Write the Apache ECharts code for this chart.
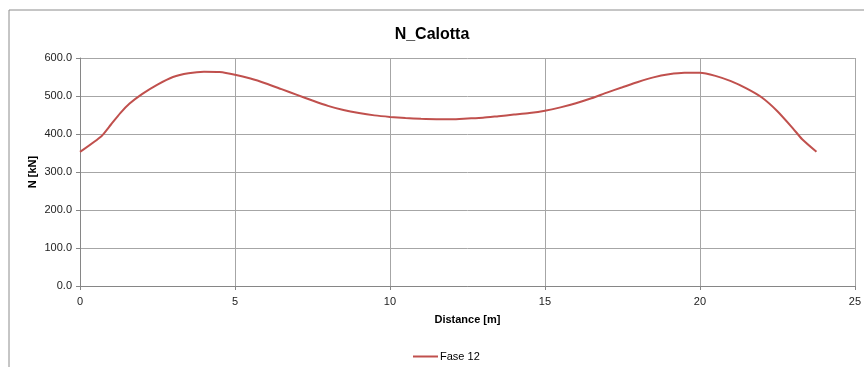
<!DOCTYPE html>
<html>
<head>
<meta charset="utf-8">
<script src="https://cdn.jsdelivr.net/npm/echarts@6/dist/echarts.min.js"></script>
<style>
html,body{margin:0;padding:0;background:#fff;}
#chart{width:864px;height:367px;}
</style>
</head>
<body>
<div id="chart"></div>
<script>
const chartTitle = 'N_Calotta';
const seriesName = 'Fase 12';
const xAxisName = 'Distance [m]';
const yAxisName = 'N [kN]';
const distance = [0, 0.7, 1.0, 1.3, 1.6, 2.0, 2.5, 3.0, 3.5, 4.0, 4.5, 5.0, 5.5, 6.0, 6.5, 7.0, 7.5, 8.0, 8.5, 9.0, 9.5, 10.0, 10.5, 11.0, 11.5, 12.0, 12.5, 13.0, 13.5, 14.0, 14.5, 15.0, 15.5, 16.0, 16.5, 17.0, 17.5, 18.0, 18.5, 19.0, 19.5, 20.0, 20.5, 21.0, 21.5, 22.0, 22.5, 23.0, 23.3, 23.76];
const nValues = [353, 395, 425, 455, 480, 505, 530, 550, 560, 564, 563, 556, 546, 533, 518, 503, 488, 474, 463, 455, 449, 445, 442, 440, 439, 439, 441, 443, 447, 451, 455, 461, 470, 481, 494, 509, 523, 537, 549, 557, 561, 561, 553, 539, 520, 496, 460, 415, 386, 353];

const data = distance.map((d, i) => [d, nValues[i]]);
const chart = echarts.init(document.getElementById('chart'));
const font = 'Liberation Sans';
chart.setOption({
  animation: false,
  backgroundColor: '#fff',
  textStyle: { fontFamily: font },
  graphic: [{
    type: 'rect',
    shape: { x: 9, y: 10, width: 900, height: 400 },
    style: { fill: 'none', stroke: '#8c8c8c', lineWidth: 1 },
    silent: true, z: -1
  }],
  title: {
    text: chartTitle,
    left: 'center',
    top: 22,
    textStyle: { fontFamily: font, fontSize: 16, fontWeight: 'bold', color: '#000' }
  },
  legend: {
    left: 408,
    top: 346,
    itemWidth: 25,
    itemHeight: 2,
    itemGap: 10,
    textStyle: { fontFamily: font, fontSize: 11, color: '#000', padding: [0, 0, 0, -3] },
    data: [{ name: seriesName, icon: 'rect' }]
  },
  grid: { left: 80, right: 9, top: 58, bottom: 81, containLabel: false },
  xAxis: {
    type: 'value',
    min: 0, max: 25, interval: 5,
    name: xAxisName,
    nameLocation: 'middle',
    nameGap: 28,
    nameTextStyle: { fontFamily: font, fontSize: 11, fontWeight: 'bold', color: '#000' },
    axisLine: { lineStyle: { color: '#868686', width: 1 } },
    axisTick: { show: true, length: 4, lineStyle: { color: '#868686' } },
    axisLabel: { fontFamily: font, fontSize: 11, color: '#222', margin: 10 },
    splitLine: { show: true, lineStyle: { color: '#a6a6a6', width: 1 } }
  },
  yAxis: {
    type: 'value',
    min: 0, max: 600, interval: 100,
    name: yAxisName,
    nameLocation: 'middle',
    nameGap: 42,
    nameMoveOverlap: false,
    nameTextStyle: { fontFamily: font, fontSize: 11, fontWeight: 'bold', color: '#000' },
    axisLine: { show: true, lineStyle: { color: '#868686', width: 1 } },
    axisTick: { show: true, length: 4, lineStyle: { color: '#868686' } },
    axisLabel: { fontFamily: font, fontSize: 11, color: '#222', margin: 8, formatter: v => v.toFixed(1) },
    splitLine: { show: true, lineStyle: { color: '#a6a6a6', width: 1 } }
  },
  series: [{
    name: seriesName,
    type: 'line',
    data: data,
    symbol: 'none',
    smooth: 0.2,
    lineStyle: { color: '#C0504D', width: 2 },
    itemStyle: { color: '#C0504D' }
  }]
});
</script>
</body>
</html>
